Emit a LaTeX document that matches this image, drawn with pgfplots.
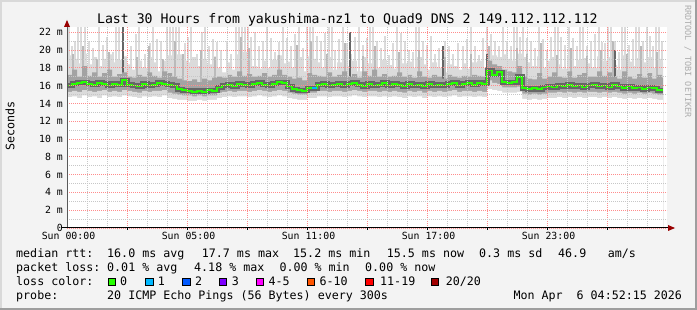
\documentclass[border=0pt]{standalone}
\usepackage{pgfplots}
\pgfplotsset{compat=1.18}
\usepackage{pgfplotstable}
\usepackage{fontspec}
\setmainfont{DejaVu Sans Mono}
\definecolor{bg}{HTML}{F3F3F3}
\definecolor{c0}{HTML}{26FF00}
\definecolor{c1}{HTML}{00B8FF}
\definecolor{c2}{HTML}{0059FF}
\definecolor{c3}{HTML}{7E00FF}
\definecolor{c45}{HTML}{FF00FF}
\definecolor{c610}{HTML}{FF5500}
\definecolor{c1119}{HTML}{FF0000}
\definecolor{c20}{HTML}{A10000}
\definecolor{arr}{HTML}{990000}
\newcommand\lf{\fontsize{11.66bp}{14bp}\selectfont}
\newcommand\tf{\fontsize{13.2bp}{16bp}\selectfont}
\newcommand\kf{\fontsize{9.85bp}{12bp}\selectfont}
\newcommand\wf{\fontsize{8.5bp}{10bp}\selectfont}
\pgfplotstableread{
t lo hi mlo mhi med
0.00 14.7 19.4 15.3 17.2 16.0
0.25 14.8 19.0 15.4 17.8 16.2
0.50 14.6 18.5 15.3 17.0 16.3
0.75 14.9 19.6 15.5 18.2 16.4
1.00 14.7 18.4 15.4 17.1 16.2
1.25 14.8 19.2 15.3 17.5 16.1
1.50 14.6 18.2 15.4 17.0 16.3
1.75 14.9 19.0 15.5 17.4 16.2
2.00 14.7 19.5 15.3 17.8 16.0
2.25 14.8 18.6 15.4 17.0 16.2
2.50 14.7 18.9 15.3 17.3 16.1
2.75 14.9 19.3 15.5 17.5 16.6
3.00 14.8 18.4 15.4 17.0 16.1
3.25 14.7 17.8 15.3 16.9 16.0
3.50 14.6 18.8 15.2 17.2 15.9
3.75 14.8 18.0 15.4 17.0 16.2
4.00 14.7 19.2 15.3 17.5 16.0
4.25 14.8 18.6 15.4 17.1 16.1
4.50 14.7 17.6 15.4 16.9 16.3
4.75 14.9 18.8 15.5 17.6 16.2
5.00 14.6 19.4 15.2 17.4 16.1
5.25 14.5 19.0 15.1 17.0 16.0
5.50 14.4 19.5 15.0 16.8 15.6
5.75 14.4 18.8 14.9 16.6 15.5
6.00 14.3 18.6 14.9 16.5 15.4
6.25 14.3 19.2 14.8 16.7 15.3
6.50 14.4 18.2 14.9 16.4 15.4
6.75 14.3 19.0 14.8 16.8 15.3
7.00 14.4 18.4 14.9 16.6 15.5
7.25 14.4 19.3 14.9 16.9 15.4
7.50 14.6 18.0 15.2 17.0 15.8
7.75 14.7 17.5 15.3 16.9 16.0
8.00 14.8 18.6 15.4 17.2 16.1
8.25 14.7 17.8 15.3 17.0 15.9
8.50 14.8 19.5 15.4 17.6 16.2
8.75 14.8 19.8 15.4 17.1 16.1
9.00 14.7 19.4 15.3 17.3 16.0
9.25 14.8 18.2 15.4 17.0 16.2
9.50 14.9 17.9 15.5 17.1 16.3
9.75 14.8 18.8 15.4 17.4 16.1
10.00 14.7 18.0 15.3 17.0 16.0
10.25 14.8 18.9 15.4 17.2 16.2
10.50 14.9 19.4 15.5 17.8 16.4
10.75 14.8 18.5 15.4 17.2 16.3
11.00 14.6 18.7 15.2 17.0 15.9
11.25 14.5 18.0 15.1 16.8 15.6
11.50 14.4 19.2 15.0 16.9 15.5
11.75 14.4 17.6 15.0 16.6 15.4
12.00 14.6 19.3 15.2 17.4 15.7
12.25 14.6 19.0 15.2 17.2 15.7
12.50 14.8 18.6 15.4 17.1 16.1
12.75 14.8 18.0 15.4 17.0 16.2
13.00 14.7 19.2 15.3 17.5 16.0
13.25 14.8 17.8 15.4 17.0 16.1
13.50 14.8 18.6 15.4 17.2 16.2
13.75 14.7 19.0 15.3 17.6 16.0
14.00 14.8 18.2 15.4 17.0 16.2
14.25 14.9 18.8 15.5 17.3 16.3
14.50 14.8 17.6 15.4 16.9 16.1
14.75 14.7 19.2 15.3 17.6 15.9
15.00 14.8 18.5 15.4 17.1 16.2
15.25 14.8 19.4 15.4 17.8 16.0
15.50 14.7 18.0 15.3 17.0 16.1
15.75 14.8 18.9 15.4 17.3 16.3
16.00 14.7 18.3 15.3 17.0 16.0
16.25 14.8 17.9 15.4 17.1 16.2
16.50 14.7 19.1 15.3 17.5 16.1
16.75 14.6 18.5 15.2 17.0 15.9
17.00 14.8 18.7 15.4 17.2 16.2
17.25 14.7 18.0 15.3 16.9 16.0
17.50 14.8 19.2 15.4 17.6 16.1
17.75 14.6 18.4 15.2 17.0 15.9
18.00 14.8 17.8 15.4 16.9 16.2
18.25 14.7 18.6 15.3 17.2 16.0
18.50 14.8 18.0 15.4 17.0 16.1
18.75 14.7 17.5 15.3 16.8 16.0
19.00 14.8 18.4 15.4 17.2 16.2
19.25 14.9 18.2 15.5 17.0 16.3
19.50 14.7 17.8 15.3 16.9 16.0
19.75 14.8 18.5 15.4 17.1 16.2
20.00 14.8 17.9 15.4 17.0 16.3
20.25 14.7 18.6 15.3 17.2 16.1
20.50 14.8 18.8 15.4 17.1 16.3
20.75 14.7 18.0 15.3 17.0 16.2
21.00 15.6 19.8 16.6 18.8 17.7
21.25 15.5 19.4 16.3 18.4 17.2
21.50 15.4 19.2 16.2 18.2 17.5
21.75 15.2 19.5 15.8 17.8 16.4
22.00 15.2 19.0 15.8 17.6 16.3
22.25 15.2 18.8 15.8 17.5 16.4
22.50 15.3 19.6 15.9 18.2 17.0
22.75 14.5 19.2 15.1 17.0 15.7
23.00 14.4 18.6 15.0 16.8 15.6
23.25 14.5 18.2 15.1 16.7 15.7
23.50 14.4 19.3 15.0 17.4 15.6
23.75 14.5 18.0 15.1 16.8 15.8
24.00 14.6 18.8 15.2 17.0 15.9
24.25 14.6 19.2 15.2 17.5 15.8
24.50 14.7 18.4 15.3 17.0 16.0
24.75 14.6 17.9 15.2 16.9 15.9
25.00 14.7 19.4 15.3 17.6 16.1
25.25 14.6 18.2 15.2 16.9 15.9
25.50 14.7 18.9 15.3 17.2 16.0
25.75 14.6 19.1 15.2 17.4 15.8
26.00 14.7 18.5 15.3 17.0 16.0
26.25 14.7 18.0 15.3 17.0 16.1
26.50 14.6 19.3 15.2 17.6 15.9
26.75 14.7 18.8 15.3 17.1 16.0
27.00 14.6 19.2 15.2 17.5 15.8
27.25 14.7 18.3 15.3 17.0 16.1
27.50 14.6 17.8 15.2 16.8 15.9
27.75 14.5 19.4 15.1 17.6 15.7
28.00 14.6 18.7 15.2 17.0 15.9
28.25 14.5 18.2 15.1 16.8 15.7
28.50 14.6 19.1 15.2 17.3 15.8
28.75 14.5 18.6 15.1 16.9 15.6
29.00 14.6 19.2 15.2 17.4 15.8
29.25 14.5 18.0 15.1 16.8 15.7
29.50 14.4 19.0 15.0 17.2 15.5
29.75 14.4 18.6 15.0 16.9 15.5
29.80 14.4 18.6 15.0 16.9 15.5
}\smoke
\pgfplotstableread{
t h
0.1 22.6
0.25 20.5
0.4 21.0
0.55 22.6
0.7 22.6
0.9 22.6
1.1 21.0
1.3 20.2
1.6 22.6
1.8 20.6
2.0 21.5
2.3 19.8
2.45 22.6
2.6 22.6
3.2 20.5
3.45 21.8
3.6 22.6
3.9 19.5
4.15 20.8
4.3 22.6
4.5 21.2
4.7 21.0
5.0 22.6
5.15 22.6
5.3 22.6
5.45 22.6
5.6 22.6
5.9 20.8
6.05 21.5
6.2 22.6
6.5 19.6
6.75 22.0
6.9 22.6
7.1 20.4
7.3 21.2
7.5 20.9
7.7 20.0
8.0 21.0
8.2 19.5
8.45 22.6
8.6 22.6
8.75 22.6
8.9 22.6
9.05 22.6
9.2 21.5
9.4 22.0
9.6 20.4
9.8 21.0
10.0 22.6
10.2 21.4
10.4 19.8
10.6 20.9
10.8 22.6
11.0 21.3
11.2 20.5
11.4 21.8
11.6 22.6
11.8 20.2
12.0 22.6
12.15 22.6
12.3 22.6
12.5 21.6
12.7 21.0
12.9 21.9
13.1 22.6
13.25 22.6
13.4 20.0
13.6 21.2
13.8 22.6
14.0 20.8
14.2 19.6
14.4 21.5
14.6 22.6
14.8 20.6
15.0 21.4
15.15 22.6
15.3 22.6
15.5 21.0
15.7 20.2
15.9 21.6
16.1 19.4
16.3 20.8
16.5 22.6
16.7 21.9
16.9 21.0
17.1 20.0
17.3 19.8
17.45 22.6
17.6 22.6
17.8 21.0
18.0 20.6
18.2 21.6
18.4 19.5
18.6 20.2
18.9 21.0
19.1 20.4
19.3 19.6
19.55 20.8
19.8 20.4
20.0 21.2
20.2 22.6
20.4 20.5
20.6 19.4
20.8 21.4
21.0 22.6
21.2 21.8
21.4 21.0
21.6 20.5
21.8 22.6
22.0 21.0
22.2 20.5
22.35 22.6
22.5 22.6
22.65 21.5
22.8 22.6
23.0 21.4
23.2 21.0
23.4 20.2
23.6 22.6
23.8 21.2
24.0 20.0
24.2 21.5
24.4 22.6
24.55 22.6
24.7 21.5
24.9 20.6
25.1 22.6
25.3 21.4
25.5 20.4
25.65 22.6
25.8 22.6
26.0 20.5
26.2 21.0
26.4 21.8
26.6 22.6
26.75 20.9
26.9 20.8
27.05 22.6
27.2 22.6
27.4 21.0
27.6 19.8
27.75 22.6
27.9 22.6
28.1 20.6
28.3 21.2
28.45 22.6
28.6 22.6
28.8 21.0
29.0 22.6
29.15 21.6
29.3 20.5
29.45 22.6
29.6 22.6
29.75 21.0
}\lspikes
\pgfplotstableread{
t h
0.3 19.5
0.8 20.5
1.5 19.0
2.1 19.8
3.5 19.2
4.1 20.4
4.8 19.0
5.4 21.0
5.8 19.5
6.7 20.0
7.4 19.2
8.7 21.5
9.1 20.2
10.6 19.4
11.5 20.6
12.2 21.0
13.0 19.6
13.9 20.8
14.8 19.3
15.4 20.5
16.6 19.8
17.6 20.0
18.9 19.2
20.2 19.6
21.1 20.5
22.5 20.2
23.0 19.5
23.7 20.8
24.5 19.4
25.2 20.2
26.0 19.3
26.7 20.0
27.3 21.0
28.0 19.5
28.7 20.4
29.5 19.8
}\mspikes
\pgfplotstableread{
t h
2.8 22.6
14.15 22.0
18.8 20.5
21.0 19.5
27.4 20.0
}\dspikes
\begin{document}
\begin{tikzpicture}
\fill[bg] (0,0) rectangle (697bp,310bp);
\fill[black!15] (0,0) rectangle (2bp,310bp);
\fill[black!15] (0,308bp) rectangle (697bp,310bp);
\fill[black!38] (695bp,0) rectangle (697bp,310bp);
\fill[black!38] (0,0) rectangle (697bp,2bp);
\begin{axis}[
  at={(67bp,82bp)}, anchor=south west,
  scale only axis, width=600bp, height=201.1bp,
  xmin=0, xmax=30, ymin=0, ymax=22.6,
  axis line style={draw=none},
  axis background/.style={fill=white},
  axis on top,
  xtick={0,3,...,27},
  xticklabels={Sun 00:00,,Sun 05:00,,Sun 11:00,,Sun 17:00,,Sun 23:00,},
  minor xtick={1,2,...,29},
  ytick={0,2,...,22},
  yticklabels={0,2 m,4 m,6 m,8 m,10 m,12 m,14 m,16 m,18 m,20 m,22 m},
  minor ytick={1,3,...,21},
  major tick length=0pt, minor tick length=0pt,
  grid=both,
  major grid style={draw=red!45, dash pattern=on 1bp off 1bp, line width=0.7bp},
  minor grid style={draw=black!22, dash pattern=on 1bp off 1bp, line width=0.7bp},
  xticklabel style={font=\kf, anchor=base, inner sep=0pt, yshift=-12bp, xshift=1.5bp},
  yticklabel style={font=\kf, anchor=east, inner sep=0pt, xshift=-4bp},
]
\addplot[const plot, fill=black!14, draw=none] table[x=t,y=hi]{\smoke} \closedcycle;
\addplot[ycomb, draw=black!14, line width=2.6bp] table[x=t,y=h]{\lspikes};
\addplot[ycomb, draw=black!27, line width=1.8bp] table[x=t,y=h]{\mspikes};
\addplot[ycomb, draw=black!60, line width=1.2bp] table[x=t,y=h]{\dspikes};
\addplot[const plot, fill=black!36, draw=none] table[x=t,y=mhi]{\smoke} \closedcycle;
\addplot[const plot, fill=black!14, draw=none] table[x=t,y=mlo]{\smoke} \closedcycle;
\addplot[const plot, fill=white, draw=none] table[x=t,y=lo]{\smoke} \closedcycle;
\addplot[const plot, line width=5bp, black!60] table[x=t,y=med]{\smoke};
\addplot[const plot, line width=1.6bp, c0] table[x=t,y=med]{\smoke};
\addplot[line width=1.6bp, c1] coordinates {(12.25,15.7) (12.5,15.7)};
\end{axis}
\begin{scope}[x=1bp,y=1bp]
\foreach \tx in {127,187,...,607}{\draw[black, line width=0.8bp] (\tx,82) -- (\tx,80);}
\draw[black!65, line width=1bp] (67,82) -- (67,285);
\fill[arr] (67,290) -- (64,283) -- (70,283) -- cycle;
\draw[black, line width=1bp] (62,82) -- (670,82);
\fill[arr] (675,82) -- (668,79) -- (668,85) -- cycle;
\node[font=\tf, anchor=base, inner sep=0pt] at (347.4,286.7) {Last 30 Hours from yakushima-nz1 to Quad9 DNS 2 149.112.112.112};
\node[font=\lf, rotate=90, inner sep=0pt] at (10,184) {Seconds};
\node[font=\wf, rotate=-90, anchor=west, inner sep=0pt, text=black!32] at (688,305) {RRDTOOL / TOBI OETIKER};
\begin{scope}[every node/.style={font=\lf, anchor=base west, inner sep=0pt}]
\node at (16,52.5) {median rtt:};
\node at (107,52.5) {16.0 ms avg};
\node at (201.7,52.5) {17.7 ms max};
\node at (293,52.5) {15.2 ms min};
\node at (386.7,52.5) {15.5 ms now};
\node at (479,52.5) {0.3 ms sd};
\node at (558,52.5) {46.9};
\node at (607.7,52.5) {am/s};
\node at (16,38.4) {packet loss:};
\node at (107,38.4) {0.01 \% avg};
\node at (194,38.4) {4.18 \% max};
\node at (279.3,38.4) {0.00 \% min};
\node at (365,38.4) {0.00 \% now};
\node at (16,24.3) {loss color:};
\node at (120,24.3) {0};
\node at (157.7,24.3) {1};
\node at (195,24.3) {2};
\node at (231.7,24.3) {3};
\node at (268.3,24.3) {4-5};
\node at (319.3,24.3) {6-10};
\node at (380,24.3) {11-19};
\node at (445.7,24.3) {20/20};
\node at (16,10.5) {probe:};
\node at (107,10.5) {20 ICMP Echo Pings (56 Bytes) every 300s};
\node at (513.3,10.5) {Mon Apr\ \ 6 04:52:15 2026};
\end{scope}
\foreach \bx/\bc in {108.3/c0,145.7/c1,182.7/c2,219.3/c3,256/c45,307.3/c610,365.7/c1119,431/c20}{
  \filldraw[fill=\bc, draw=black, line width=0.8bp] (\bx,24.6) rectangle ++(7.3,7.3);
}
\end{scope}
\end{tikzpicture}
\end{document}
